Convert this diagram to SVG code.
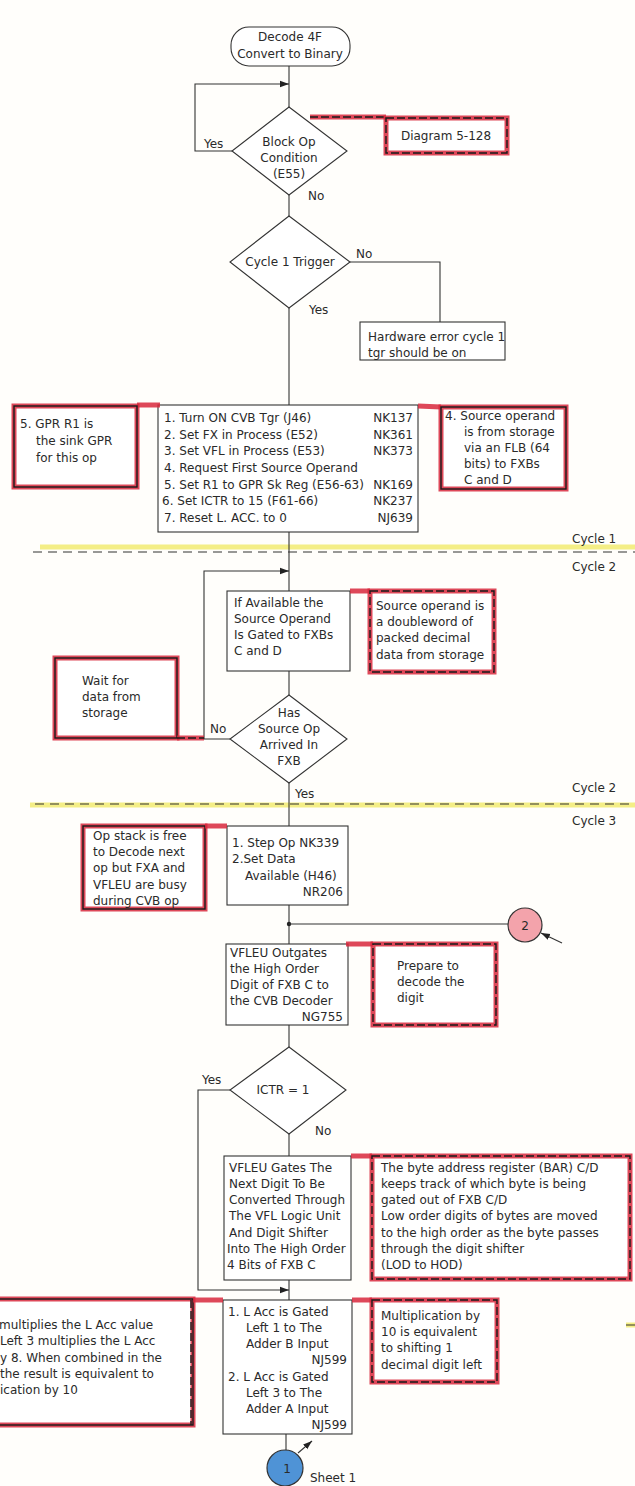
<svg xmlns="http://www.w3.org/2000/svg" width="635" height="1486" viewBox="0 0 635 1486">
  <defs>
    <marker id="arr" viewBox="0 0 10 10" refX="10" refY="5" markerWidth="9" markerHeight="9" orient="auto" markerUnits="userSpaceOnUse">
      <path d="M0,1.5 L10,5 L0,8.5 Z" fill="#222"/>
    </marker>
    <style>
      text { font-family: "DejaVu Sans", "Noto Sans", sans-serif; font-size: 12px; fill: #2a2a2a; }
      .box { fill: #fff; stroke: #333; stroke-width: 1.1; }
      .ln { fill: none; stroke: #333; stroke-width: 1.1; }
      .redline { fill: none; stroke: #d8283c; stroke-width: 5; stroke-opacity: 0.85; }
      .note { fill: #fff; stroke: #d8283c; stroke-width: 5; stroke-opacity: 0.85; }
      .noteink { fill: none; stroke: #1a1a1a; stroke-width: 1.4; }
      .dash { fill: none; stroke: #1a1a1a; stroke-width: 1.4; stroke-dasharray: 8 3; }
      .hl { fill: none; stroke: #f4ee86; stroke-width: 5; }
      .sep { fill: none; stroke: #333; stroke-width: 1.1; stroke-dasharray: 9 6; }
      .mid { text-anchor: middle; }
      .end { text-anchor: end; }
    </style>
  </defs>
  <rect width="635" height="1486" fill="#fffefb"/>

  <!-- cycle boundaries -->
  <g id="cycle-lines">
    <line class="hl" x1="40" y1="547" x2="635" y2="547"/>
    <line class="sep" x1="33" y1="552" x2="635" y2="552"/>
    <text x="572" y="543">Cycle 1</text>
    <text x="572" y="571">Cycle 2</text>
    <line class="hl" x1="30" y1="805" x2="635" y2="805"/>
    <line class="sep" x1="35" y1="804" x2="635" y2="804"/>
    <text x="572" y="792">Cycle 2</text>
    <text x="572" y="825">Cycle 3</text>
    <line class="hl" x1="626" y1="1325" x2="635" y2="1325" stroke-width="3"/>
    <line x1="626" y1="1325" x2="635" y2="1325" stroke="#333" stroke-width="1"/>
  </g>

  <!-- connectors -->
  <g id="connectors">
    <line class="ln" x1="289" y1="66" x2="289" y2="107"/>
    <polyline class="ln" points="232,151 195,151 195,84 289,84" marker-end="url(#arr)"/>
    <line class="ln" x1="289" y1="195" x2="289" y2="216"/>
    <polyline class="ln" points="350,262 440,262 440,322"/>
    <line class="ln" x1="289" y1="308" x2="289" y2="405"/>
    <line class="ln" x1="289" y1="532" x2="289" y2="591"/>
    <polyline class="ln" points="230,739 204,739 204,571 289,571" marker-end="url(#arr)"/>
    <line class="ln" x1="289" y1="671" x2="289" y2="695"/>
    <line class="ln" x1="289" y1="783" x2="289" y2="826"/>
    <line class="ln" x1="289" y1="905" x2="289" y2="944"/>
    <circle cx="289" cy="924" r="2.2" fill="#222"/>
    <line class="ln" x1="289" y1="924" x2="508" y2="924"/>
    <line class="ln" x1="289" y1="1025" x2="289" y2="1047"/>
    <polyline class="ln" points="230,1090 198,1090 198,1290 289,1290" marker-end="url(#arr)"/>
    <line class="ln" x1="289" y1="1134" x2="289" y2="1156"/>
    <line class="ln" x1="289" y1="1280" x2="289" y2="1300"/>
    <line class="ln" x1="286" y1="1434" x2="286" y2="1450"/>
    <line class="ln" x1="562" y1="943" x2="541" y2="933" marker-end="url(#arr)"/>
    <line class="ln" x1="298" y1="1453" x2="312" y2="1441" marker-end="url(#arr)"/>
  </g>

  <!-- start terminal -->
  <g id="start">
    <rect class="box" x="231" y="27" width="119" height="39" rx="18"/>
    <text class="mid" x="290" y="41">Decode 4F</text>
    <text class="mid" x="290" y="58">Convert to Binary</text>
  </g>

  <!-- block op decision -->
  <g id="block-op">
    <polygon class="box" points="289,107 347,151 289,195 232,151"/>
    <text class="mid" x="289" y="146">Block Op</text>
    <text class="mid" x="289" y="162">Condition</text>
    <text class="mid" x="289" y="178">(E55)</text>
    <text x="204" y="148">Yes</text>
    <text x="308" y="200">No</text>
  </g>

  <g id="note-diagram">
    <line class="redline" x1="310" y1="117" x2="386" y2="117"/>
    <line class="dash" x1="310" y1="117" x2="386" y2="117"/>
    <rect class="note" x="386" y="118" width="121" height="35"/>
    <rect class="dash" x="386" y="118" width="121" height="35"/>
    <text class="mid" x="446" y="140">Diagram 5-128</text>
  </g>

  <!-- cycle 1 trigger decision -->
  <g id="cycle1-trigger">
    <polygon class="box" points="289,216 350,262 289,308 230,262"/>
    <text class="mid" x="290" y="266">Cycle 1 Trigger</text>
    <text x="356" y="258">No</text>
    <text x="309" y="314">Yes</text>
  </g>

  <g id="hw-error">
    <rect class="box" x="360" y="322" width="145" height="38"/>
    <text x="368" y="341">Hardware error cycle 1</text>
    <text x="368" y="357">tgr should be on</text>
  </g>

  <!-- cycle 1 actions -->
  <g id="cycle1-actions">
    <rect class="box" x="158" y="405" width="260" height="127"/>
    <text x="164" y="422">1. Turn ON CVB Tgr (J46)</text>
    <text class="end" x="413" y="422">NK137</text>
    <text x="164" y="439">2. Set FX in Process (E52)</text>
    <text class="end" x="413" y="439">NK361</text>
    <text x="164" y="455">3. Set VFL in Process (E53)</text>
    <text class="end" x="413" y="455">NK373</text>
    <text x="164" y="472">4. Request First Source Operand</text>
    <text x="164" y="489">5. Set R1 to GPR Sk Reg (E56-63)</text>
    <text class="end" x="413" y="489">NK169</text>
    <text x="162" y="505">6. Set ICTR to 15 (F61-66)</text>
    <text class="end" x="413" y="505">NK237</text>
    <text x="164" y="522">7. Reset L. ACC. to 0</text>
    <text class="end" x="413" y="522">NJ639</text>
  </g>

  <g id="note-gpr">
    <rect class="note" x="14" y="406" width="123" height="81"/>
    <line class="redline" x1="137" y1="405" x2="160" y2="405"/>
    <rect class="noteink" x="14" y="406" width="123" height="81"/>
    <text x="20" y="428">5. GPR R1 is</text>
    <text x="36" y="445">the sink GPR</text>
    <text x="36" y="462">for this op</text>
  </g>

  <g id="note-source-flb">
    <line class="redline" x1="418" y1="406" x2="441" y2="407"/>
    <rect class="note" x="441" y="407" width="125" height="82"/>
    <rect class="noteink" x="441" y="407" width="125" height="82"/>
    <text x="445" y="420">4. Source operand</text>
    <text x="464" y="436">is from storage</text>
    <text x="464" y="452">via an FLB (64</text>
    <text x="464" y="468">bits) to FXBs</text>
    <text x="464" y="484">C and D</text>
  </g>

  <!-- cycle 2 -->
  <g id="gate-source">
    <rect class="box" x="227" y="591" width="123" height="80"/>
    <text x="234" y="607">If Available the</text>
    <text x="234" y="623">Source Operand</text>
    <text x="234" y="639">Is Gated to FXBs</text>
    <text x="234" y="655">C and D</text>
  </g>

  <g id="note-doubleword">
    <line class="redline" x1="350" y1="591" x2="370" y2="591"/>
    <rect class="note" x="370" y="591" width="124" height="81"/>
    <rect class="dash" x="370" y="591" width="124" height="81"/>
    <text x="376" y="610">Source operand is</text>
    <text x="376" y="626">a doubleword of</text>
    <text x="376" y="642">packed decimal</text>
    <text x="376" y="659">data from storage</text>
  </g>

  <g id="source-arrived">
    <polygon class="box" points="289,695 347,739 289,783 230,739"/>
    <text class="mid" x="289" y="717">Has</text>
    <text class="mid" x="289" y="733">Source Op</text>
    <text class="mid" x="289" y="749">Arrived In</text>
    <text class="mid" x="289" y="765">FXB</text>
    <text x="210" y="733">No</text>
    <text x="295" y="798">Yes</text>
  </g>

  <g id="note-wait">
    <rect class="note" x="55" y="658" width="122" height="80"/>
    <rect class="noteink" x="55" y="658" width="122" height="80"/>
    <line class="redline" x1="177" y1="738" x2="204" y2="738"/>
    <line class="dash" x1="177" y1="738" x2="204" y2="738"/>
    <text x="82" y="685">Wait for</text>
    <text x="82" y="701">data from</text>
    <text x="82" y="717">storage</text>
  </g>

  <!-- cycle 3 -->
  <g id="step-op">
    <rect class="box" x="227" y="826" width="121" height="79"/>
    <text x="232" y="847">1. Step Op NK339</text>
    <text x="232" y="863">2.Set Data</text>
    <text x="245" y="880">Available (H46)</text>
    <text class="end" x="343" y="896">NR206</text>
  </g>

  <g id="note-opstack">
    <rect class="note" x="83" y="826" width="122" height="83"/>
    <rect class="noteink" x="83" y="826" width="122" height="83"/>
    <line class="redline" x1="205" y1="826" x2="227" y2="826"/>
    <text x="93" y="840">Op stack is free</text>
    <text x="93" y="856">to Decode next</text>
    <text x="93" y="872">op but FXA and</text>
    <text x="93" y="889">VFLEU are busy</text>
    <text x="93" y="905">during CVB op</text>
  </g>

  <g id="connector-2">
    <circle cx="525" cy="925" r="17" fill="#f3a3ab" stroke="#333" stroke-width="1.2"/>
    <text class="mid" x="525" y="930" font-size="11">2</text>
  </g>

  <g id="outgate-digit">
    <rect class="box" x="226" y="944" width="122" height="81"/>
    <text x="230" y="957">VFLEU Outgates</text>
    <text x="230" y="973">the High Order</text>
    <text x="230" y="989">Digit of FXB C to</text>
    <text x="230" y="1005">the CVB Decoder</text>
    <text class="end" x="343" y="1021">NG755</text>
  </g>

  <g id="note-prepare">
    <line class="redline" x1="346" y1="944" x2="373" y2="944"/>
    <rect class="note" x="373" y="944" width="123" height="81"/>
    <rect class="dash" x="373" y="944" width="123" height="81"/>
    <text x="397" y="970">Prepare to</text>
    <text x="397" y="986">decode the</text>
    <text x="397" y="1002">digit</text>
  </g>

  <g id="ictr-test">
    <polygon class="box" points="289,1047 346,1090 289,1134 230,1090"/>
    <text class="mid" x="283" y="1094">ICTR = 1</text>
    <text x="202" y="1084">Yes</text>
    <text x="315" y="1135">No</text>
  </g>

  <g id="next-digit">
    <rect class="box" x="224" y="1156" width="127" height="124"/>
    <text x="229" y="1172">VFLEU Gates The</text>
    <text x="229" y="1188">Next Digit To Be</text>
    <text x="229" y="1204">Converted Through</text>
    <text x="229" y="1220">The VFL Logic Unit</text>
    <text x="229" y="1237">And Digit Shifter</text>
    <text x="227" y="1253">Into The High Order</text>
    <text x="227" y="1269">4 Bits of FXB C</text>
  </g>

  <g id="note-bar">
    <line class="redline" x1="351" y1="1156" x2="372" y2="1156"/>
    <rect class="note" x="372" y="1156" width="258" height="123"/>
    <rect class="dash" x="372" y="1156" width="258" height="123"/>
    <text x="381" y="1172">The byte address register (BAR) C/D</text>
    <text x="381" y="1188">keeps track of which byte is being</text>
    <text x="381" y="1204">gated out of FXB C/D</text>
    <text x="381" y="1220">Low order digits of bytes are moved</text>
    <text x="381" y="1237">to the high order as the byte passes</text>
    <text x="381" y="1253">through the digit shifter</text>
    <text x="381" y="1269">(LOD to HOD)</text>
  </g>

  <g id="lacc-gate">
    <rect class="box" x="223" y="1300" width="129" height="134"/>
    <text x="228" y="1316">1. L  Acc  is Gated</text>
    <text x="246" y="1332">Left 1 to The</text>
    <text x="246" y="1348">Adder B Input</text>
    <text class="end" x="347" y="1364">NJ599</text>
    <text x="228" y="1381">2. L  Acc  is Gated</text>
    <text x="246" y="1397">Left 3 to The</text>
    <text x="246" y="1413">Adder A Input</text>
    <text class="end" x="347" y="1429">NJ599</text>
  </g>

  <g id="note-left-shift">
    <rect class="note" x="-10" y="1299" width="203" height="126"/>
    <rect class="noteink" x="-10" y="1299" width="203" height="126"/>
    <line class="redline" x1="193" y1="1300" x2="223" y2="1300"/>
    <line class="dash" x1="191" y1="1300" x2="191" y2="1425"/>
    <text x="-1" y="1329">multiplies the L Acc   value</text>
    <text x="0" y="1345">Left 3 multiplies the L  Acc</text>
    <text x="0" y="1362">y 8.  When combined in the</text>
    <text x="0" y="1378">the result is equivalent to</text>
    <text x="0" y="1394">ication by 10</text>
  </g>

  <g id="note-mult10">
    <line class="redline" x1="352" y1="1300" x2="372" y2="1300"/>
    <rect class="note" x="372" y="1300" width="125" height="82"/>
    <rect class="dash" x="372" y="1300" width="125" height="82"/>
    <text x="381" y="1320">Multiplication by</text>
    <text x="381" y="1336">10 is equivalent</text>
    <text x="381" y="1352">to shifting 1</text>
    <text x="381" y="1369">decimal digit left</text>
  </g>

  <g id="connector-1">
    <circle cx="285" cy="1468" r="18" fill="#4f93d6" stroke="#333" stroke-width="1.2"/>
    <text class="mid" x="287" y="1473" font-size="11">1</text>
    <text x="310" y="1482">Sheet 1</text>
  </g>
</svg>
